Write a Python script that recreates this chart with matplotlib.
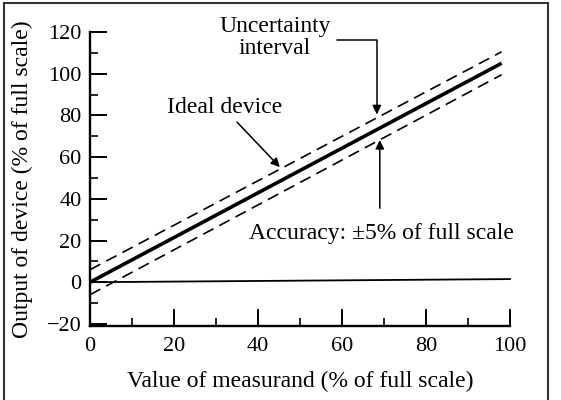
import matplotlib
matplotlib.use("Agg")
import matplotlib.pyplot as plt
from matplotlib.lines import Line2D

plt.rcParams['font.family'] = ['Liberation Serif', 'DejaVu Serif']

# data
ideal_x = [0, 98]
ideal_y = [0, 105]
upper_x = [0, 98]
upper_y = [6, 110.5]
lower_x = [0, 98]
lower_y = [-6, 99.5]
zero_x = [0, 100]
zero_y = [0, 1.5]
xticks = [0, 20, 40, 60, 80, 100]
yticks = [-20, 0, 20, 40, 60, 80, 100, 120]
ytick_labels = ['\u221220', '0', '20', '40', '60', '80', '100', '120']
xminor = [10, 30, 50, 70, 90]
yminor = [-10, 10, 30, 50, 70, 90, 110]

FS = 17

fig = plt.figure(figsize=(5.61, 4.0), dpi=100)
ax = fig.add_axes([90/561, 74/400, 420/561, 294/400])
ax.set_xlim(0, 100)
ax.set_ylim(-21, 120)

ax.plot(ideal_x, ideal_y, color='black', lw=2.6, solid_capstyle='butt', clip_on=False)
ax.plot(upper_x, upper_y, color='black', lw=1.2, dashes=(7, 4), clip_on=False)
ax.plot(lower_x, lower_y, color='black', lw=1.2, dashes=(7, 4), clip_on=False)
ax.plot(zero_x, zero_y, color='black', lw=1.3, clip_on=False)

for s in ['top', 'right']:
    ax.spines[s].set_visible(False)
for s in ['left', 'bottom']:
    ax.spines[s].set_linewidth(1.7)

ax.set_xticks(xticks)
ax.set_yticks(yticks)
ax.set_xticks(xminor, minor=True)
ax.set_yticks(yminor, minor=True)
ax.tick_params(axis='both', which='major', direction='in', length=12, width=1.4,
               labelsize=16)
ax.tick_params(axis='both', which='minor', direction='in', length=6, width=1.2)
ax.tick_params(axis='x', which='major', pad=8)
ax.tick_params(axis='y', which='major', pad=6)
ax.set_yticklabels(ytick_labels)

ax.set_xlabel('Value of measurand (% of full scale)', fontsize=FS)
ax.set_ylabel('Output of device (% of full scale)', fontsize=FS)
ax.xaxis.set_label_coords(0.5, -0.152)
ax.yaxis.set_label_coords(-0.135, 0.5)

arrow_kw = dict(arrowstyle='-|>', color='black', lw=1.1, mutation_scale=13,
                shrinkA=0, shrinkB=0)

ax.text(44, 117.5, 'Uncertainty\ninterval', ha='center', va='center',
        fontsize=FS, linespacing=1.05)
ax.annotate('', xy=(68.3, 80.5), xytext=(58.8, 116.2), annotation_clip=False,
            arrowprops=dict(connectionstyle='angle,angleA=0,angleB=90,rad=0',
                            **arrow_kw))

ax.text(32, 84, 'Ideal device', ha='center', va='center', fontsize=FS)
ax.annotate('', xy=(45.2, 55.2), xytext=(35, 76.8), annotation_clip=False,
            arrowprops=arrow_kw)

ax.text(69.3, 23.5, 'Accuracy: \u00b15% of full scale', ha='center', va='center',
        fontsize=FS)
ax.annotate('', xy=(69, 68.2), xytext=(69, 35.5), annotation_clip=False,
            arrowprops=arrow_kw)

# figure border (left, top, right)
W, H = 561, 400
for (x0, y0, x1, y1) in [(4, 0, 4, 397), (4, 397, 548, 397), (548, 397, 548, 0)]:
    fig.add_artist(Line2D([x0 / W, x1 / W], [y0 / H, y1 / H], color='#333333', lw=1.5,
                          transform=fig.transFigure))

fig.savefig('out.png', dpi=100)
